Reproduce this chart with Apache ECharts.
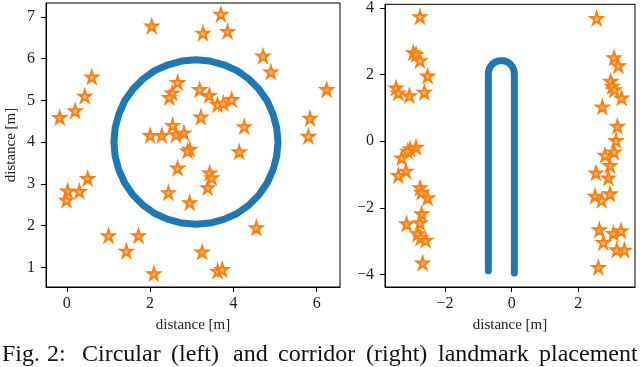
<!DOCTYPE html>
<html>
<head>
<meta charset="utf-8">
<script src="https://cdn.jsdelivr.net/npm/echarts@6/dist/echarts.min.js"></script>
<style>
html,body{margin:0;padding:0;background:#fff;}
#c{width:640px;height:367px;}
</style>
</head>
<body>
<div id="c"></div>
<script>
// ---- data ----
const leftXTicks = [0, 2, 4, 6];
const leftYTicks = [1, 2, 3, 4, 5, 6, 7];
const rightXTicks = [-2, 0, 2];
const rightYTicks = [-4, -2, 0, 2, 4];

// circular trajectory (left)
const circlePath = [
  [5.07,4.00],[5.04,4.34],[4.95,4.67],[4.81,4.99],[4.61,5.27],[4.37,5.51],[4.09,5.71],[3.77,5.85],[3.44,5.94],
  [3.10,5.97],[2.76,5.94],[2.43,5.85],[2.11,5.71],[1.83,5.51],[1.59,5.27],[1.39,4.99],[1.25,4.67],[1.16,4.34],
  [1.13,4.00],[1.16,3.66],[1.25,3.33],[1.39,3.02],[1.59,2.73],[1.83,2.49],[2.11,2.29],[2.43,2.15],[2.76,2.06],
  [3.10,2.03],[3.44,2.06],[3.77,2.15],[4.09,2.29],[4.37,2.49],[4.61,2.73],[4.81,3.02],[4.95,3.33],[5.04,3.66],
  [5.07,4.00]
];

// circular landmarks (left)
const circleLandmarks = [
  [2.04,6.78],[3.70,7.06],[3.27,6.61],[3.86,6.65],[4.71,6.06],[4.90,5.68],[6.24,5.26],[5.84,4.57],[5.80,4.14],
  [0.60,5.56],[0.43,5.10],[0.20,4.75],[-0.17,4.59],[2.66,5.43],[2.53,5.18],[2.46,5.07],[3.19,5.26],[3.42,5.12],
  [3.62,4.90],[3.76,4.93],[3.96,5.02],[3.22,4.60],[4.26,4.37],[2.54,4.40],[2.00,4.16],[2.28,4.16],[2.62,4.18],
  [2.81,4.22],[2.95,3.83],[2.90,3.79],[4.14,3.77],[2.66,3.38],[3.43,3.26],[3.48,3.15],[3.38,2.91],[2.44,2.79],
  [2.95,2.55],[0.50,3.13],[0.02,2.83],[0.30,2.82],[-0.01,2.61],[1.00,1.76],[1.72,1.76],[1.43,1.39],[2.09,0.85],
  [3.25,1.37],[3.62,0.91],[3.73,0.95],[4.55,1.95]
];

// corridor trajectory (right)
const corridorPath = [
  [0.08,-3.96],[0.08,2.03],[0.067,2.131],[0.028,2.225],[-0.034,2.306],[-0.115,2.368],[-0.209,2.407],
  [-0.31,2.42],[-0.411,2.407],[-0.505,2.368],[-0.586,2.306],[-0.648,2.225],[-0.687,2.131],[-0.70,2.03],
  [-0.70,-3.89]
];

// corridor landmarks (right)
const corridorLandmarks = [
  [-2.75,3.74],[-2.95,2.66],[-2.87,2.61],[-2.75,2.42],[-2.52,1.96],[-3.47,1.60],[-3.40,1.45],[-3.07,1.37],
  [-2.62,1.47],[-2.87,-0.18],[-3.05,-0.23],[-3.12,-0.30],[-3.30,-0.50],[-3.17,-0.90],[-3.40,-1.03],[-2.75,-1.40],
  [-2.70,-1.53],[-2.52,-1.70],[-2.70,-2.18],[-2.75,-2.45],[-3.15,-2.48],[-2.82,-2.78],[-2.73,-2.90],[-2.58,-2.97],
  [-2.67,-3.66],
  [2.55,3.69],[3.07,2.51],[3.20,2.27],[2.97,1.80],[3.02,1.65],[3.08,1.55],[3.30,1.30],[2.72,1.03],[3.17,0.45],
  [3.13,0.02],[3.07,-0.32],[2.80,-0.42],[2.95,-0.73],[2.53,-0.95],[2.90,-1.10],[2.95,-1.58],[2.50,-1.65],
  [2.70,-1.77],[2.63,-2.66],[2.75,-3.04],[3.05,-2.77],[3.28,-2.69],[3.15,-3.26],[3.38,-3.27],[2.60,-3.79]
];

const axisTitle = 'distance [m]';
const captionWords = ['Fig.', '2:', 'Circular', '(left)', 'and', 'corridor', '(right)', 'landmark', 'placement'];

// ---- chart ----
const SERIF = '"Liberation Serif", "DejaVu Serif", serif';
const BLUE = '#1f77b4';
const ORANGE = '#ff7f0e';
const STAR = 'path://M50,2 L61.2,36.4 L97.5,36.4 L68.2,57.7 L79.4,92.1 L50,70.9 L20.6,92.1 L31.8,57.7 L2.5,36.4 L38.8,36.4 Z';
const fmt = v => String(v).replace('-', '\u2212');

function valAxis(gridIndex, min, max, ticks, name, nameGap, labelMargin) {
  const a = {
    type: 'value', gridIndex, min, max,
    axisLine: { show: true, onZero: false, lineStyle: { color: '#000', width: 1 } },
    axisTick: { show: true, inside: false, length: 5, customValues: ticks, lineStyle: { color: '#000', width: 1 } },
    axisLabel: { customValues: ticks, formatter: fmt, fontFamily: SERIF, fontSize: 16, color: '#222', margin: labelMargin },
    splitLine: { show: false }
  };
  if (name) {
    a.name = name;
    a.nameLocation = 'middle';
    a.nameGap = nameGap;
    a.nameTextStyle = { fontFamily: SERIF, fontSize: 15, color: '#222' };
  }
  return a;
}

const chart = echarts.init(document.getElementById('c'), null, { renderer: 'canvas' });

const captionX = [2, 47, 82, 171, 233, 278, 366, 438, 539];

chart.setOption({
  animation: false,
  backgroundColor: '#fff',
  grid: [
    { left: 46, right: 300, top: 3, bottom: 80, show: true, borderColor: '#000', borderWidth: 1, backgroundColor: 'transparent' },
    { left: 385, right: 5, top: 3, bottom: 80, show: true, borderColor: '#000', borderWidth: 1, backgroundColor: 'transparent' }
  ],
  xAxis: [
    valAxis(0, -0.5, 6.56, leftXTicks, axisTitle, 31, 9),
    valAxis(1, -3.8, 3.7, rightXTicks, axisTitle, 31, 9)
  ],
  yAxis: [
    valAxis(0, 0.53, 7.33, leftYTicks, axisTitle, 27, 11),
    valAxis(1, -4.38, 4.11, rightYTicks, null, 0, 11)
  ],
  series: [
    { type: 'line', xAxisIndex: 0, yAxisIndex: 0, data: circlePath, showSymbol: false, symbol: 'none',
      lineStyle: { color: BLUE, width: 7, cap: 'round', join: 'round' }, z: 2 },
    { type: 'scatter', xAxisIndex: 0, yAxisIndex: 0, data: circleLandmarks, symbol: STAR, symbolSize: 12,
      itemStyle: { color: '#ffb980', borderColor: ORANGE, borderWidth: 2, opacity: 1 }, z: 3 },
    { type: 'line', xAxisIndex: 1, yAxisIndex: 1, data: corridorPath, showSymbol: false, symbol: 'none',
      lineStyle: { color: BLUE, width: 7, cap: 'round', join: 'round' }, z: 2 },
    { type: 'scatter', xAxisIndex: 1, yAxisIndex: 1, data: corridorLandmarks, symbol: STAR, symbolSize: 12,
      itemStyle: { color: '#ffb980', borderColor: ORANGE, borderWidth: 2, opacity: 1 }, z: 3 }
  ],
  graphic: captionWords.map((w, i) => ({
    type: 'text', left: captionX[i], top: 343,
    style: { text: w, fontFamily: SERIF, fontSize: 24, fill: '#111' }
  }))
});
</script>
</body>
</html>
